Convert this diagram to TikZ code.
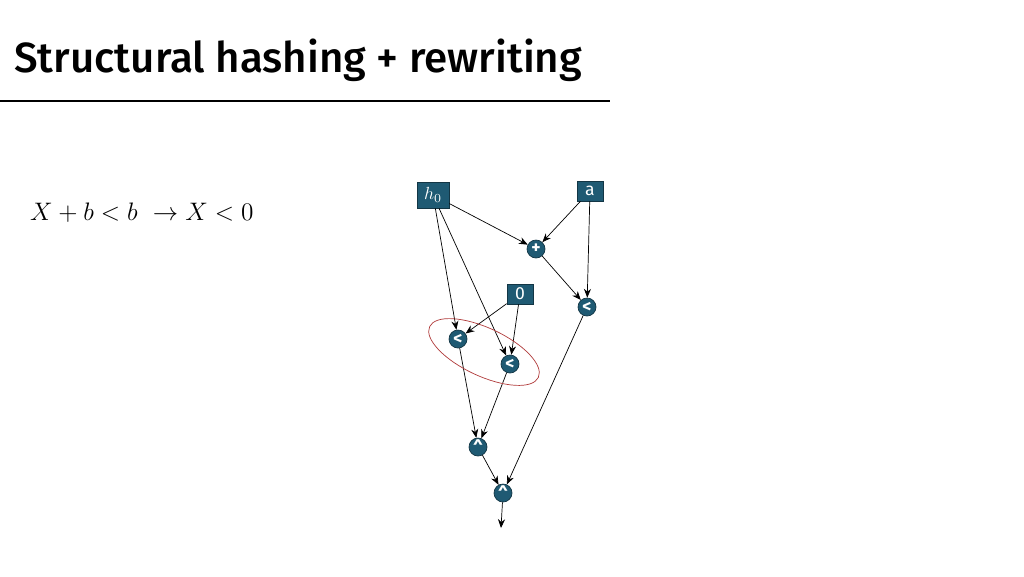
\documentclass[tikz,border=0pt]{standalone}
\usepackage{fontspec}
\setsansfont{Fira Sans}
\newfontfamily\titlefont{Fira Sans}[UprightFont=* Medium]
\usetikzlibrary{arrows.meta}
\definecolor{nodeteal}{HTML}{1F5A73}
\definecolor{ringred}{HTML}{B03A3A}
\tikzset{
	gate/.style={circle, fill=nodeteal, draw=nodeteal!60!black, text=white, inner sep=0pt, minimum size=18\pxu, font=\sffamily\bfseries},
	input/.style={rectangle, fill=nodeteal, draw=nodeteal!60!black, text=white, inner sep=0pt, minimum height=20\pxu, font=\sffamily\normalsize},
	wire/.style={-{Stealth[length=5pt,width=4pt]}, thin}
}
\newlength{\pxu}
\setlength{\pxu}{0.02cm}
\begin{document}
\begin{tikzpicture}[x=0.02cm, y=-0.02cm]
	\useasboundingbox (0,0) rectangle (1024,576);
	% title
	\node[anchor=base west, font=\titlefont\fontsize{24}{28}\selectfont, inner sep=0pt] (title) at (14,72) {Structural hashing + rewriting};
	\draw[thick] (0,101) -- (610,101);
	\node[anchor=west, font=\Large] (rule) at (24,213) {$X + b < b\ \rightarrow X < 0$};
	% inputs
	\node[input, minimum width=32\pxu, minimum height=26\pxu] (h0) at (433,195) {$h_0$};
	\node[input, minimum width=26\pxu] (a) at (590,191) {a};
	\node[input, minimum width=26\pxu] (zero) at (520,294) {0};
	% gates
	\node[gate] (plus) at (536,249) {+};
	\node[gate] (ltr) at (587,307) {<};
	\node[gate] (lt1) at (458,339) {<};
	\node[gate] (lt2) at (510,364) {<};
	\node[gate] (and1) at (478,447) {\textasciicircum};
	\node[gate] (and2) at (503,493) {\textasciicircum};
	\coordinate (out) at (501,528);
	% edges
	\draw[wire] (h0) -- (plus);
	\draw[wire] (a) -- (plus);
	\draw[wire] (plus) -- (ltr);
	\draw[wire] (a) -- (ltr);
	\draw[wire] (h0) -- (lt1);
	\draw[wire] (h0) -- (lt2);
	\draw[wire] (zero) -- (lt1);
	\draw[wire] (zero) -- (lt2);
	\draw[wire] (lt1) -- (and1);
	\draw[wire] (lt2) -- (and1);
	\draw[wire] (and1) -- (and2);
	\draw[wire] (ltr) -- (and2);
	\draw[wire] (and2) -- (out);
	% shared pair
	\draw[ringred] (484,352) ellipse[x radius=60, y radius=24, rotate=-25];
\end{tikzpicture}
\end{document}
